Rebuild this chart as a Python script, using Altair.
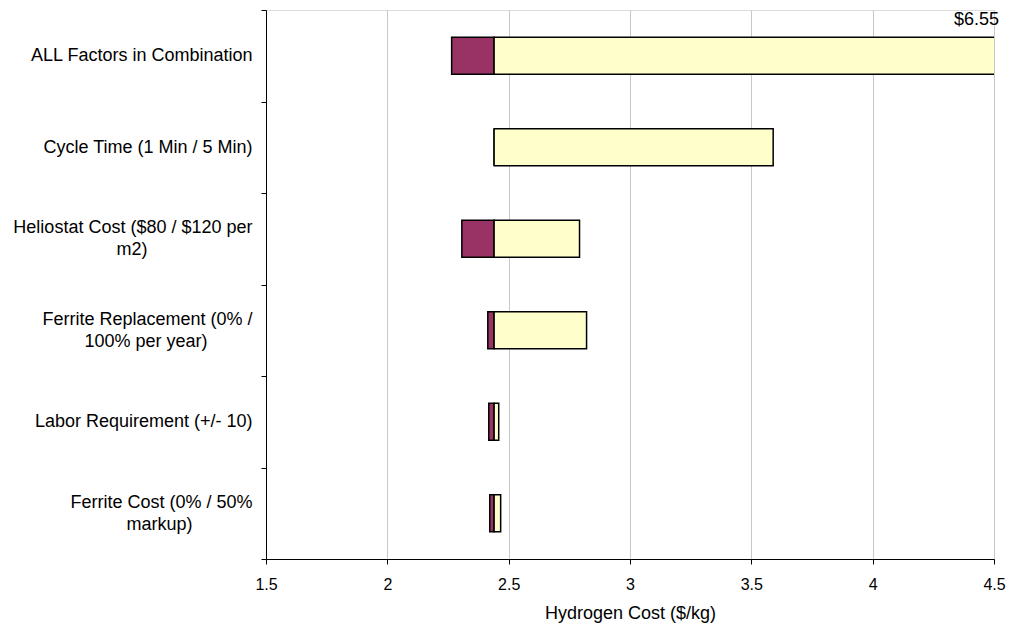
import altair as alt
import pandas as pd

# Sensitivity of hydrogen cost to each factor (low case / high case, $/kg)
factor_lines = [
    ["ALL Factors in Combination"],
    ["Cycle Time (1 Min / 5 Min)"],
    ["Heliostat Cost ($80 / $120 per", "m2)"],
    ["Ferrite Replacement (0% /", "100% per year)"],
    ["Labor Requirement (+/- 10)"],
    ["Ferrite Cost (0% / 50%", "markup)"],
]
base_cost = 2.44
low_cost = [2.265, 2.44, 2.307, 2.414, 2.418, 2.422]
high_cost = [6.55, 3.59, 2.792, 2.821, 2.459, 2.467]
x_min, x_max = 1.5, 4.5

# Helvetica/Arial advance widths (1/1000 em), used to centre wrapped label lines
ADV = {" ": 278, "$": 556, "%": 889, "(": 333, ")": 333, "/": 278, "+": 584, "-": 333,
       "A": 667, "C": 722, "F": 611, "H": 722, "L": 556, "M": 833, "R": 722, "T": 611,
       "a": 556, "b": 556, "c": 500, "d": 556, "e": 556, "i": 222, "k": 500, "l": 222,
       "m": 833, "n": 556, "o": 556, "p": 556, "q": 556, "r": 333, "s": 500, "t": 278,
       "u": 556, "y": 500}
NBSP, ZWSP = "\u00a0", "\u200b"


def text_width(s):
    return sum(ADV.get(ch, 556) for ch in s)


def centred(lines):
    """Join wrapped lines; shorter lines get trailing no-break spaces so that the
    right-aligned block reads as centred."""
    if len(lines) == 1:
        return lines[0]
    widest = max(text_width(s) for s in lines)
    out = []
    for s in lines:
        n = round((widest - text_width(s)) / 2 / ADV[" "])
        out.append(s + (NBSP * n + ZWSP if n else ""))
    return "\n".join(out)


factors = [centred(lines) for lines in factor_lines]

df = pd.DataFrame({
    "factor": factors,
    "low": low_cost,
    "high": high_cost,
    "base": [base_cost] * len(factors),
})
df["high_shown"] = df["high"].clip(upper=x_max)
df["over"] = df["high"] > x_max
df["high_label"] = df["high"].map(lambda v: f"${v:.2f}")

FONT = "Liberation Sans"

# Half-height line spacing: one-line labels sit on the 2nd slot, two-line labels
# use slots 1 and 3 (slot 2 holds an invisible spacer), so every block is
# vertically centred on its band.
label_expr = (
    "length(split(datum.label, '\\n')) > 1"
    f" ? [split(datum.label, '\\n')[0], '{ZWSP}', split(datum.label, '\\n')[1]]"
    f" : ['{ZWSP}', datum.label]"
)

y_enc = alt.Y(
    "factor:N",
    sort=factors,
    scale=alt.Scale(paddingInner=0, paddingOuter=0),
    axis=alt.Axis(
        title=None,
        labelExpr=label_expr,
        labelFont=FONT,
        labelFontSize=18,
        labelColor="black",
        labelLineHeight=11,
        labelOffset=-11,
        labelAlign="right",
        labelBaseline="middle",
        labelPadding=9,
        labelLimit=300,
        tickBand="extent",
        tickSize=5,
        tickColor="black",
        domainColor="black",
        grid=False,
    ),
)

x_scale = alt.Scale(domain=[x_min, x_max], nice=False, zero=False)
x_axis = alt.Axis(
    title="Hydrogen Cost ($/kg)",
    titleFont=FONT,
    titleFontSize=18,
    titleFontWeight="normal",
    titleColor="black",
    titlePadding=12,
    values=[1.5, 2, 2.5, 3, 3.5, 4, 4.5],
    labelExpr="format(datum.value, '~g')",
    labelFont=FONT,
    labelFontSize=16,
    labelColor="black",
    labelPadding=12,
    labelFlush=False,
    tickSize=5,
    tickColor="black",
    domainColor="black",
    grid=True,
    gridColor="#c8c8c8",
)

BAR_PX = 37
base = alt.Chart(df)

low_bars = base.mark_bar(
    color="#993366", stroke="black", strokeWidth=1.5, clip=True, size=BAR_PX
).encode(
    y=y_enc,
    x=alt.X("low:Q", scale=x_scale, axis=x_axis),
    x2="base:Q",
)

high_bars = base.mark_bar(
    color="#FFFFCC", stroke="black", strokeWidth=1.5, clip=True, size=BAR_PX
).encode(
    y=alt.Y("factor:N", sort=factors),
    x=alt.X("base:Q", scale=x_scale),
    x2="high:Q",
)

over_label = base.transform_filter("datum.over").mark_text(
    align="right", baseline="alphabetic", dx=5, dy=-31,
    font=FONT, fontSize=18, color="black",
).encode(
    y=alt.Y("factor:N", sort=factors),
    x=alt.X("high_shown:Q", scale=x_scale),
    text="high_label:N",
)

chart = (
    alt.layer(low_bars, high_bars, over_label)
    .properties(
        width=728,
        height=549,
        autosize=alt.AutoSizeParams(type="none"),
        padding={"left": 266, "top": 10, "right": 21, "bottom": 74},
    )
    .configure_view(stroke="#a0a0a0", strokeWidth=1)
    .configure(background="white")
)

chart.save("out.html", embed_options={"renderer": "svg", "actions": False})
